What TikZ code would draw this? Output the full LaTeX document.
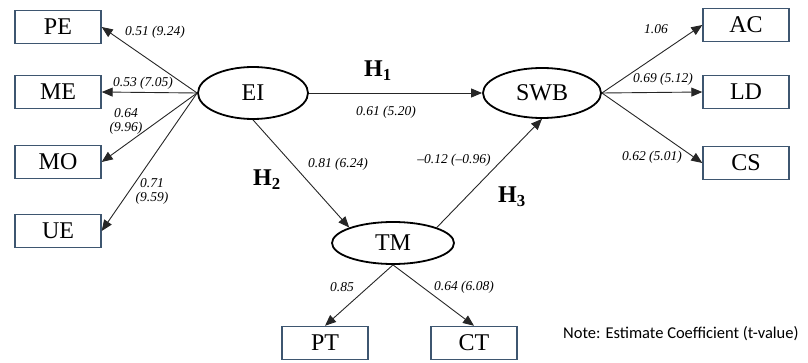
\documentclass[tikz,border=0pt]{standalone}
\usepackage{fontspec}
\setmainfont{Liberation Serif}
\newfontfamily\notefont{Carlito}
\usetikzlibrary{arrows.meta,shapes.geometric}

\definecolor{boxblue}{RGB}{62,86,112}

\tikzset{
  manifest/.style={draw=boxblue, line width=1.4pt, minimum width=86pt, minimum height=33pt,
    inner sep=0pt, font=\fontsize{24}{26}\selectfont},
  latent/.style={ellipse, draw, line width=1.8pt, inner sep=0pt, font=\fontsize{24}{26}\selectfont},
  effect/.style={draw=black!85, line width=0.9pt, -{Triangle[length=11pt,width=9pt]}},
  coef/.style={font=\fontsize{13.5}{14}\itshape\selectfont, inner sep=0pt, align=center},
  hyp/.style={font=\fontsize{24}{26}\bfseries\selectfont, inner sep=0pt},
}

\begin{document}
\begin{tikzpicture}[x=1pt,y=-1pt]
  \useasboundingbox (0,0) rectangle (808,363);

  %% latent constructs
  \node[latent, minimum width=110pt, minimum height=52pt] (EI) at (253,93) {EI};
  \node[latent, minimum width=118pt, minimum height=50pt] (SWB) at (542,93) {SWB};
  \node[latent, minimum width=122pt, minimum height=42pt] (TM) at (393,243) {TM};

  %% indicators
  \node[manifest] (PE) at (58,27) {PE};
  \node[manifest] (ME) at (58,92) {ME};
  \node[manifest] (MO) at (58,162) {MO};
  \node[manifest] (UE) at (58,231) {UE};
  \node[manifest] (AC) at (746,25) {AC};
  \node[manifest] (LD) at (746,92) {LD};
  \node[manifest] (CS) at (746,163) {CS};
  \node[manifest] (PT) at (325,343) {PT};
  \node[manifest] (CT) at (474,343) {CT};

  %% loadings and paths
  \foreach \ind in {PE,ME,MO,UE} \draw[effect] (EI.west) -- (\ind.east);
  \foreach \ind in {AC,LD,CS} \draw[effect] (SWB.east) -- (\ind.west);
  \foreach \ind in {PT,CT} \draw[effect] (TM.south) -- (\ind.north);
  \draw[effect] (EI.east) -- (SWB.west);
  \draw[effect] (EI.south) -- (TM.north west);
  \draw[effect] (TM.north east) -- (SWB.south);

  %% coefficients (t-values)
  \node[coef] (cPE) at (155,32) {0.51 (9.24)};
  \node[coef] (cME) at (143,83) {0.53 (7.05)};
  \node[coef] (cMO) at (126,121) {0.64\\(9.96)};
  \node[coef] (cUE) at (152,191) {0.71\\(9.59)};
  \node[coef] (cH1) at (386,112) {0.61 (5.20)};
  \node[coef] (cH2) at (338,164) {0.81 (6.24)};
  \node[coef] (cH3) at (454,160) {\textendash0.12 (\textendash0.96)};
  \node[coef] (cAC) at (656,29) {1.06};
  \node[coef] (cLD) at (663,79) {0.69 (5.12)};
  \node[coef] (cCS) at (652,157) {0.62 (5.01)};
  \node[coef] (cPT) at (342,287) {0.85};
  \node[coef] (cCT) at (464,287) {0.64 (6.08)};

  %% hypotheses
  \node[hyp] (H1) at (378,71) {H\textsubscript{1}};
  \node[hyp] (H2) at (267,180) {H\textsubscript{2}};
  \node[hyp] (H3) at (512,197) {H\textsubscript{3}};

  \node[anchor=west, inner sep=0pt, font=\notefont\fontsize{16.5}{18}\selectfont] (note) at (563,334)
    {Note: Estimate Coefficient (t-value)};
\end{tikzpicture}
\end{document}
